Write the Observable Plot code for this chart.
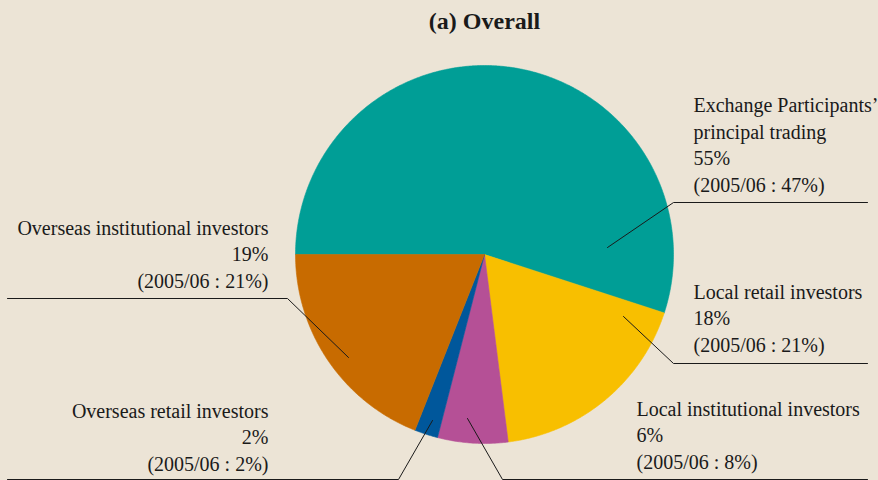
<!DOCTYPE html>
<html>
<head>
<meta charset="utf-8">
<script src="https://cdn.jsdelivr.net/npm/d3@7"></script>
<script src="https://cdn.jsdelivr.net/npm/@observablehq/plot@0.6"></script>
<style>
  html, body { margin: 0; padding: 0; background: #ece4d6; }
  #chart svg { display: block; font-family: "Liberation Serif", "DejaVu Serif", serif; }
</style>
</head>
<body>
<div id="chart"></div>
<script>
// ---- data ----
const categories = [
  "Exchange Participants’ principal trading",
  "Local retail investors",
  "Local institutional investors",
  "Overseas retail investors",
  "Overseas institutional investors"
];
const labelNames = [
  "Exchange Participants’\nprincipal trading",
  "Local retail investors",
  "Local institutional investors",
  "Overseas retail investors",
  "Overseas institutional investors"
];
const share2006 = [55, 18, 6, 2, 19];   // 2006/07 share, %
const share2005 = [47, 21, 8, 2, 21];   // 2005/06 share, %
const colors = ["#009e96", "#f8bf00", "#b55096", "#00579b", "#c86b00"];
const title = "(a) Overall";

// ---- layout (pixels) ----
const W = 878, H = 480;
const cx = 484, cy = 254, R = 189;
const startAngle = 270; // degrees clockwise from 12 o'clock
const FONT = "Liberation Serif";
// leader lines: anchor inside slice -> elbow -> end of horizontal
const leaders = [
  [[607, 247], [673, 202], [867, 202]],
  [[623, 316], [673, 363], [867, 363]],
  [[467, 418], [502, 479], [867, 479]],
  [[432, 420], [398, 479], [7, 479]],
  [[348, 357], [287, 298], [7, 298]]
];
// label anchor: x, baseline of last line, text anchor
const labelPos = [
  [693, 191, "start"],
  [693, 351, "start"],
  [636, 468, "start"],
  [268, 470, "end"],
  [268, 287, "end"]
];

// ---- slice polygons from the values ----
const total = d3.sum(share2006);
let acc = startAngle;
const slices = share2006.map((v, i) => {
  const a0 = acc, a1 = acc + v / total * 360;
  acc = a1;
  const pts = [{x: cx, y: cy}];
  const n = Math.max(2, Math.ceil(a1 - a0) * 2);
  for (let k = 0; k <= n; ++k) {
    const a = (a0 + (a1 - a0) * k / n) * Math.PI / 180;
    pts.push({x: cx + R * Math.sin(a), y: cy - R * Math.cos(a)});
  }
  pts.push({x: cx, y: cy});
  return {i, pts};
});

const leaderPts = leaders.flatMap((seg, i) => seg.map(([x, y]) => ({x, y, i})));
const labels = categories.map((c, i) => ({
  x: labelPos[i][0], y: labelPos[i][1], anchor: labelPos[i][2],
  text: `${labelNames[i]}\n${share2006[i]}%\n(2005/06 : ${share2005[i]}%)`
}));

const chart = Plot.plot({
  width: W, height: H,
  margin: 0,
  x: {domain: [0, W], range: [0, W], axis: null},
  y: {domain: [0, H], range: [0, H], axis: null},
  style: {background: "#ece4d6", color: "#1a1a1a"},
  marks: [
    ...slices.map(s => Plot.line(s.pts, {x: "x", y: "y", fill: colors[s.i], stroke: colors[s.i], strokeWidth: 0.6})),
    Plot.line(leaderPts, {x: "x", y: "y", z: "i", stroke: "#1a1a1a", strokeWidth: 1}),
    Plot.text(labels.filter(d => d.anchor === "start"), {x: "x", y: "y", text: "text", textAnchor: "start", lineAnchor: "bottom", lineHeight: 1.32, fontSize: 20, fontFamily: FONT, fill: "#1a1a1a"}),
    Plot.text(labels.filter(d => d.anchor === "end"), {x: "x", y: "y", text: "text", textAnchor: "end", lineAnchor: "bottom", lineHeight: 1.32, fontSize: 20, fontFamily: FONT, fill: "#1a1a1a"}),
    Plot.text([title], {x: () => cx, y: () => 28, text: d => d, textAnchor: "middle", lineAnchor: "bottom", fontSize: 24, fontWeight: "bold", fontFamily: FONT, fill: "#1a1a1a"})
  ]
});
document.getElementById("chart").appendChild(chart);
</script>
</body>
</html>
